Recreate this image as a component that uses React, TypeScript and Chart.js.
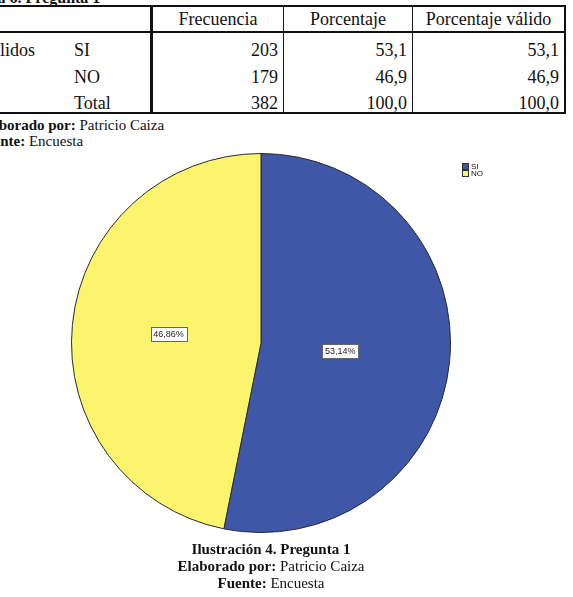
import React, { useEffect, useRef } from "react";
import { Chart, registerables } from "chart.js";

Chart.register(...registerables);

// ---- data ----
const categories = ["SI", "NO"];
const frequencies = [203, 179];
const sliceColors = ["#3e57a7", "#fcf46d"];
const labelRadius = [0.42, 0.49];

const tableHeaders = ["Frecuencia", "Porcentaje", "Porcentaje válido"];
const tableRowLabels = ["SI", "NO", "Total"];
const tableFreq = ["203", "179", "382"];
const tablePct = ["53,1", "46,9", "100,0"];
const tableValidPct = ["53,1", "46,9", "100,0"];

const serif = "'Liberation Serif', 'Times New Roman', serif";
const sans = "'Liberation Sans', Arial, sans-serif";

const labelPlugin = {
  id: "pieLabels",
  afterDraw(chart: any) {
    const ctx = chart.ctx;
    const meta = chart.getDatasetMeta(0);
    const data = chart.data.datasets[0].data as number[];
    const total = data.reduce((a, b) => a + b, 0);
    ctx.save();
    ctx.font = `9px ${sans}`;
    ctx.textAlign = "center";
    ctx.textBaseline = "middle";
    meta.data.forEach((arc: any, i: number) => {
      const p = arc.getProps(["x", "y", "startAngle", "endAngle", "outerRadius"], true);
      const mid = (p.startAngle + p.endAngle) / 2;
      const r = p.outerRadius * labelRadius[i];
      const cx = p.x + Math.cos(mid) * r;
      const cy = p.y + Math.sin(mid) * r;
      const txt = ((data[i] / total) * 100).toFixed(2).replace(".", ",") + "%";
      const w = ctx.measureText(txt).width + 5;
      const h = 14;
      ctx.fillStyle = "#ffffff";
      ctx.fillRect(Math.round(cx - w / 2) + 0.5, Math.round(cy - h / 2) + 0.5, Math.round(w), h);
      ctx.strokeStyle = "#666";
      ctx.lineWidth = 1;
      ctx.strokeRect(Math.round(cx - w / 2) + 0.5, Math.round(cy - h / 2) + 0.5, Math.round(w), h);
      ctx.fillStyle = "#222";
      ctx.fillText(txt, cx, cy + 0.5);
    });
    // legend
    const area = chart.chartArea;
    const lx = area.right + 11;
    let ly = area.top + 10;
    ctx.font = `8px ${sans}`;
    ctx.textAlign = "left";
    categories.forEach((c, i) => {
      ctx.fillStyle = sliceColors[i];
      ctx.fillRect(lx + 0.5, ly + 0.5, 6, 6);
      ctx.strokeStyle = "#333";
      ctx.strokeRect(lx + 0.5, ly + 0.5, 6, 6);
      ctx.fillStyle = "#111";
      ctx.fillText(c, lx + 9, ly + 4);
      ly += 7;
    });
    ctx.restore();
  },
};

function PieChart() {
  const ref = useRef<HTMLCanvasElement>(null);
  useEffect(() => {
    if (!ref.current) return;
    const chart = new Chart(ref.current, {
      type: "pie",
      data: {
        labels: categories,
        datasets: [
          {
            data: frequencies,
            backgroundColor: sliceColors,
            borderColor: "#2a2a2a",
            borderWidth: 1,
          },
        ],
      },
      options: {
        animation: false,
        responsive: false,
        maintainAspectRatio: false,
        layout: { padding: { left: 71, right: 122, top: 13, bottom: 17 } },
        plugins: { legend: { display: false }, tooltip: { enabled: false } },
      },
      plugins: [labelPlugin],
    });
    return () => chart.destroy();
  }, []);
  return (
    <canvas
      ref={ref}
      width={573}
      height={410}
      style={{ position: "absolute", left: 0, top: 140, width: 573, height: 410 }}
    />
  );
}

const abs = (s: React.CSSProperties): React.CSSProperties => ({ position: "absolute", ...s });

export default function App() {
  const rowY = [50, 77, 103];
  const hLines = [
    { y: 5, h: 2 },
    { y: 31, h: 2 },
    { y: 112, h: 2 },
  ];
  const vLines = [
    { x: 150, w: 3 },
    { x: 283, w: 1 },
    { x: 412, w: 1 },
    { x: 564, w: 2 },
  ];
  const cellText = (text: string, left: number, right: number, cy: number, align: "center" | "right" | "left") => (
    <div
      key={text + left + cy}
      style={abs({
        left,
        width: right - left,
        top: cy - 11,
        height: 22,
        lineHeight: "22px",
        fontSize: 18,
        fontFamily: serif,
        textAlign: align,
        whiteSpace: "nowrap",
        color: "#111",
        boxSizing: "border-box",
        paddingRight: align === "right" ? 5 : 0,
      })}
    >
      {text}
    </div>
  );
  return (
    <div
      style={{
        position: "fixed",
        left: 0,
        top: 0,
        width: 573,
        height: 597,
        overflow: "hidden",
        background: "#fff",
        fontFamily: serif,
        color: "#111",
      }}
    >
      <div style={abs({ left: -33, top: -10, fontSize: 16, lineHeight: "16px", fontWeight: "bold", whiteSpace: "nowrap" })}>
        Tabla 6. Pregunta 1
      </div>
      {hLines.map((l, i) => (
        <div key={"h" + i} style={abs({ left: 0, top: l.y, width: 566, height: l.h, background: "#111" })} />
      ))}
      {vLines.map((l, i) => (
        <div key={"v" + i} style={abs({ left: l.x, top: 5, width: l.w, height: 109, background: "#111" })} />
      ))}
      {cellText(tableHeaders[0], 153, 283, 19, "center")}
      {cellText(tableHeaders[1], 284, 412, 19, "center")}
      {cellText(tableHeaders[2], 413, 564, 19, "center")}
      {cellText("Válidos", -21, 150, rowY[0], "left")}
      {tableRowLabels.map((t, i) => cellText(t, 74, 150, rowY[i], "left"))}
      {tableFreq.map((t, i) => cellText(t, 153, 283, rowY[i], "right"))}
      {tablePct.map((t, i) => cellText(t, 284, 412, rowY[i], "right"))}
      {tableValidPct.map((t, i) => cellText(t, 413, 564, rowY[i], "right"))}
      <div style={abs({ left: -23, top: 116, fontSize: 15, lineHeight: "18px", whiteSpace: "nowrap" })}>
        <b>Elaborado por:</b> Patricio Caiza
      </div>
      <div style={abs({ left: -24, top: 132, fontSize: 15, lineHeight: "18px", whiteSpace: "nowrap" })}>
        <b>Fuente:</b> Encuesta
      </div>
      <PieChart />
      <div style={abs({ left: 0, width: 542, top: 541, fontSize: 15, lineHeight: "17px", textAlign: "center", fontWeight: "bold" })}>
        Ilustración 4. Pregunta 1
      </div>
      <div style={abs({ left: 0, width: 542, top: 558, fontSize: 15, lineHeight: "17px", textAlign: "center" })}>
        <b>Elaborado por:</b> Patricio Caiza
      </div>
      <div style={abs({ left: 0, width: 542, top: 575, fontSize: 15, lineHeight: "17px", textAlign: "center" })}>
        <b>Fuente:</b> Encuesta
      </div>
    </div>
  );
}
